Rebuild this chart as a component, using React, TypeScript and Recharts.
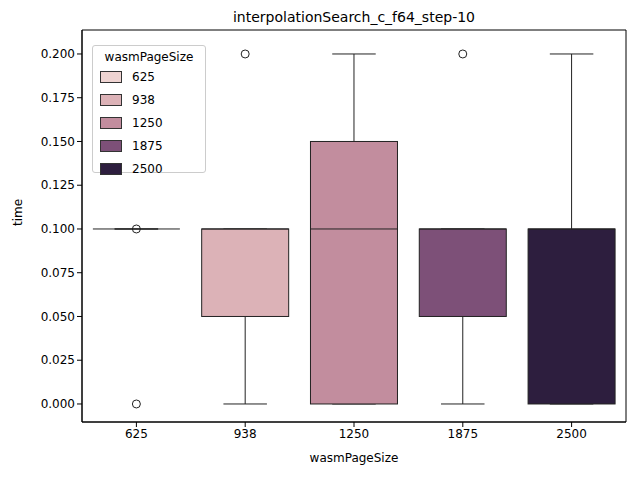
import { ComposedChart, Bar, XAxis, YAxis, ReferenceArea } from 'recharts';

const sizes = ['625', '938', '1250', '1875', '2500'];
const colors = ['#efd4d2', '#dcb2b7', '#c28d9e', '#7d5078', '#2d1e3e'];
const whiskLo = [0.1, 0.0, 0.0, 0.0, 0.0];
const q1 = [0.1, 0.05, 0.0, 0.05, 0.0];
const med = [0.1, 0.1, 0.1, 0.1, 0.1];
const q3 = [0.1, 0.1, 0.15, 0.1, 0.1];
const whiskHi = [0.1, 0.1, 0.2, 0.1, 0.2];
const outliers = [[0.1, 0.0], [0.2], [], [0.2], []];
const yTicks = [0, 0.025, 0.05, 0.075, 0.1, 0.125, 0.15, 0.175, 0.2];

const Y_MIN = -0.0103;
const Y_MAX = 0.2137;

const data = sizes.map((s, i) => ({
  size: s,
  span: [Y_MIN, Y_MAX],
  i,
}));

function BoxShape(props: any) {
  const { x, y, width, height, payload } = props;
  const i = payload.i;
  // bar spans the full domain, so map values linearly inside it
  const py = (v: number) => y + height - ((v - Y_MIN) / (Y_MAX - Y_MIN)) * height;
  const cx = x + width / 2;
  const top = py(q3[i]);
  const bot = py(q1[i]);
  const capW = width / 4;
  return (
    <g stroke="#222" strokeWidth={1} fill="none">
      <line x1={cx} x2={cx} y1={py(whiskHi[i])} y2={top} />
      <line x1={cx} x2={cx} y1={bot} y2={py(whiskLo[i])} />
      <line x1={cx - capW} x2={cx + capW} y1={py(whiskHi[i])} y2={py(whiskHi[i])} />
      <line x1={cx - capW} x2={cx + capW} y1={py(whiskLo[i])} y2={py(whiskLo[i])} />
      <rect x={x} y={top} width={width} height={Math.max(bot - top, 0)} fill={colors[i]} />
      <line x1={x} x2={x + width} y1={py(med[i])} y2={py(med[i])} />
      {outliers[i].map((v, k) => (
        <circle key={k} cx={cx} cy={py(v)} r={4} fill="none" />
      ))}
    </g>
  );
}

const legendItems = sizes.map((s, i) => ({ s, c: colors[i] }));

export default function App() {
  return (
    <div style={{ position: 'absolute', left: 0, top: 0, width: 640, height: 480, background: '#fff', fontFamily: 'DejaVu Sans' }}>
      <ComposedChart width={640} height={480} data={data} margin={{ top: 30, right: 14, bottom: 0, left: 0 }} barCategoryGap="10%">
        <XAxis dataKey="size" height={58} tick={{ fontSize: 12, fill: '#000' }} stroke="#000" tickSize={5}
          label={{ value: 'wasmPageSize', position: 'insideBottom', offset: 18, fontSize: 12, fill: '#000' }} />
        <YAxis type="number" domain={[Y_MIN, Y_MAX]} ticks={yTicks} width={82} stroke="#000" tickSize={5}
          tick={{ fontSize: 12, fill: '#000' }} tickFormatter={(v: number) => v.toFixed(3)}
          label={{ value: 'time', angle: -90, position: 'insideLeft', offset: 18, fontSize: 12, fill: '#000' }} />
        <ReferenceArea y1={Y_MIN} y2={Y_MAX} fill="none" stroke="#000" strokeWidth={1} ifOverflow="visible" />
        <Bar dataKey="span" shape={<BoxShape />} isAnimationActive={false} />
        <text x={354} y={22} textAnchor="middle" fontSize={14} fill="#000">interpolationSearch_c_f64_step-10</text>
      </ComposedChart>
      <div style={{ position: 'absolute', left: 92, top: 45, width: 114, height: 128, border: '1px solid #ccc', borderRadius: 3, background: 'rgba(255,255,255,0.8)', fontSize: 12, boxSizing: 'border-box' }}>
        <div style={{ textAlign: 'center', marginTop: 4, marginBottom: 1 }}>wasmPageSize</div>
        {legendItems.map((it) => (
          <div key={it.s} style={{ display: 'flex', alignItems: 'center', height: 23, paddingLeft: 7 }}>
            <div style={{ width: 20, height: 10, background: it.c, border: '1px solid #333', marginRight: 10 }} />
            <span>{it.s}</span>
          </div>
        ))}
      </div>
    </div>
  );
}
